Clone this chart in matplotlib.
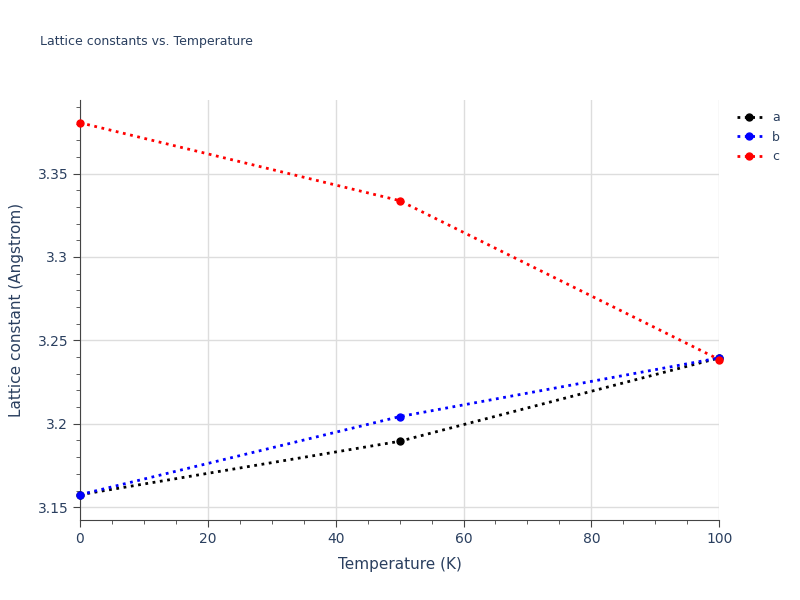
import matplotlib.pyplot as plt
from matplotlib.ticker import MultipleLocator

# data
temperature = [0, 50, 100]
a_vals = [3.1575, 3.1895, 3.2395]
b_vals = [3.1575, 3.2043, 3.2395]
c_vals = [3.3805, 3.3338, 3.2385]

fig = plt.figure(figsize=(8, 6), dpi=100)
ax = fig.add_axes([0.1, 0.133, 0.799, 0.7])

for vals, col, lab in [(a_vals, 'black', 'a'), (b_vals, 'blue', 'b'), (c_vals, 'red', 'c')]:
    ax.plot(temperature, vals, linestyle=':', linewidth=2, color=col, marker='o',
            markersize=5, label=lab, clip_on=False, zorder=3)

ax.set_xlim(0, 100)
ax.set_ylim(3.1422, 3.394)
ax.xaxis.set_major_locator(MultipleLocator(20))
ax.xaxis.set_minor_locator(MultipleLocator(5))
ax.yaxis.set_major_locator(MultipleLocator(0.05))
ax.yaxis.set_minor_locator(MultipleLocator(0.01))
ax.set_yticks([3.15, 3.2, 3.25, 3.3, 3.35])
ax.set_yticklabels(['3.15', '3.2', '3.25', '3.3', '3.35'])
ax.grid(True, which='major', color='#dddddd', linewidth=1)
for s in ['top', 'right']:
    ax.spines[s].set_visible(False)
for s in ['left', 'bottom']:
    ax.spines[s].set_color('#444444')
ax.tick_params(which='both', colors='#444444', labelcolor='#2a3f5f', labelsize=10)
ax.tick_params(which='major', length=5)
ax.tick_params(which='minor', length=3)

ax.set_xlabel('Temperature (K)', color='#2a3f5f', fontsize=11, labelpad=8)
ax.set_ylabel('Lattice constant (Angstrom)', color='#2a3f5f', fontsize=11, labelpad=10)
fig.text(0.05, 0.925, 'Lattice constants vs. Temperature', color='#2a3f5f', fontsize=9)

leg = ax.legend(loc='upper left', bbox_to_anchor=(1.01, 1.0), frameon=False,
                fontsize=9, handlelength=2, labelcolor='#2a3f5f')

fig.savefig('out.png', dpi=100)
